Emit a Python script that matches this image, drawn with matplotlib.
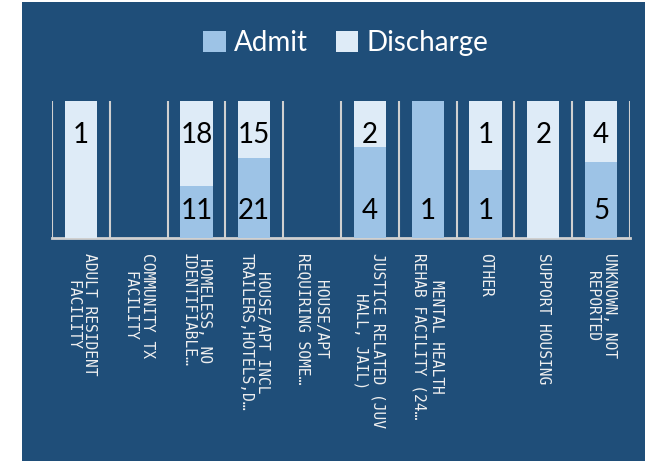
import matplotlib.pyplot as plt
from matplotlib.patches import Rectangle
import numpy as np

plt.rcParams['font.family'] = ['Lato', 'DejaVu Sans']

categories = ['ADULT RESIDENT\nFACILITY',
              'COMMUNITY TX\nFACILITY',
              'HOMELESS, NO\nIDENTIFIABLE…',
              'HOUSE/APT INCL\nTRAILERS,HOTELS,D…',
              'HOUSE/APT\nREQUIRING SOME…',
              'JUSTICE RELATED (JUV\nHALL, JAIL)',
              'MENTAL HEALTH\nREHAB FACILITY (24…',
              'OTHER',
              'SUPPORT HOUSING',
              'UNKNOWN, NOT\nREPORTED']
admit = [0, 0, 11, 21, 0, 4, 1, 1, 0, 5]
discharge = [1, 0, 18, 15, 0, 2, 0, 1, 2, 4]

bg = '#1F4E79'
c_admit = '#9DC3E6'
c_dis = '#DEEBF7'
grid_c = '#D0D0D0'

fig = plt.figure(figsize=(6.45, 4.61), dpi=100)
fig.patch.set_facecolor('white')
fig.add_artist(Rectangle((22 / 645, 0), 1 - 22 / 645, 1 - 2 / 461,
                         transform=fig.transFigure, facecolor=bg,
                         edgecolor='none', zorder=-10))

ax = fig.add_axes([52 / 645, 1 - 238 / 461, (630 - 52) / 645, (238 - 101) / 461])
ax.set_facecolor(bg)

admit = np.array(admit, dtype=float)
discharge = np.array(discharge, dtype=float)
total = admit + discharge
safe = np.where(total == 0, 1, total)
a_frac = admit / safe
d_frac = discharge / safe

x = np.arange(len(categories))
ax.bar(x, a_frac, width=0.56, color=c_admit, label='Admit', zorder=3)
ax.bar(x, d_frac, width=0.56, bottom=a_frac, color=c_dis, label='Discharge', zorder=3)

for i in range(len(categories)):
    if admit[i] > 0:
        ax.text(x[i], 0.2, f'{int(admit[i])}', ha='center', va='center',
                fontsize=20, color='black', zorder=4)
    if discharge[i] > 0:
        ax.text(x[i], 0.755, f'{int(discharge[i])}', ha='center', va='center',
                fontsize=20, color='black', zorder=4)

# category separators
for b in np.arange(-0.5, len(categories) + 0.5, 1):
    ax.axvline(b, color=grid_c, lw=1.5, zorder=1)

ax.set_xlim(-0.5, len(categories) - 0.5)
ax.set_ylim(0, 1)
ax.set_yticks([])
ax.set_xticks(x)
ax.set_xticklabels(categories, rotation=-90, ha='center', va='top',
                   multialignment='center', fontsize=10.5, color='#F0F0F0',
                   linespacing=1.15, family='DejaVu Sans Mono')
ax.tick_params(axis='x', length=0, pad=11)
for s in ['top', 'left', 'right']:
    ax.spines[s].set_visible(False)
ax.spines['bottom'].set_color(grid_c)
ax.spines['bottom'].set_linewidth(2)

fig.legend(loc='center', bbox_to_anchor=(0.536, 0.907), ncol=2, frameon=False,
           fontsize=20, labelcolor='white', handlelength=0.8, handleheight=0.8,
           handletextpad=0.3, columnspacing=1.0)

fig.savefig('out.png', dpi=100, facecolor=fig.get_facecolor())
